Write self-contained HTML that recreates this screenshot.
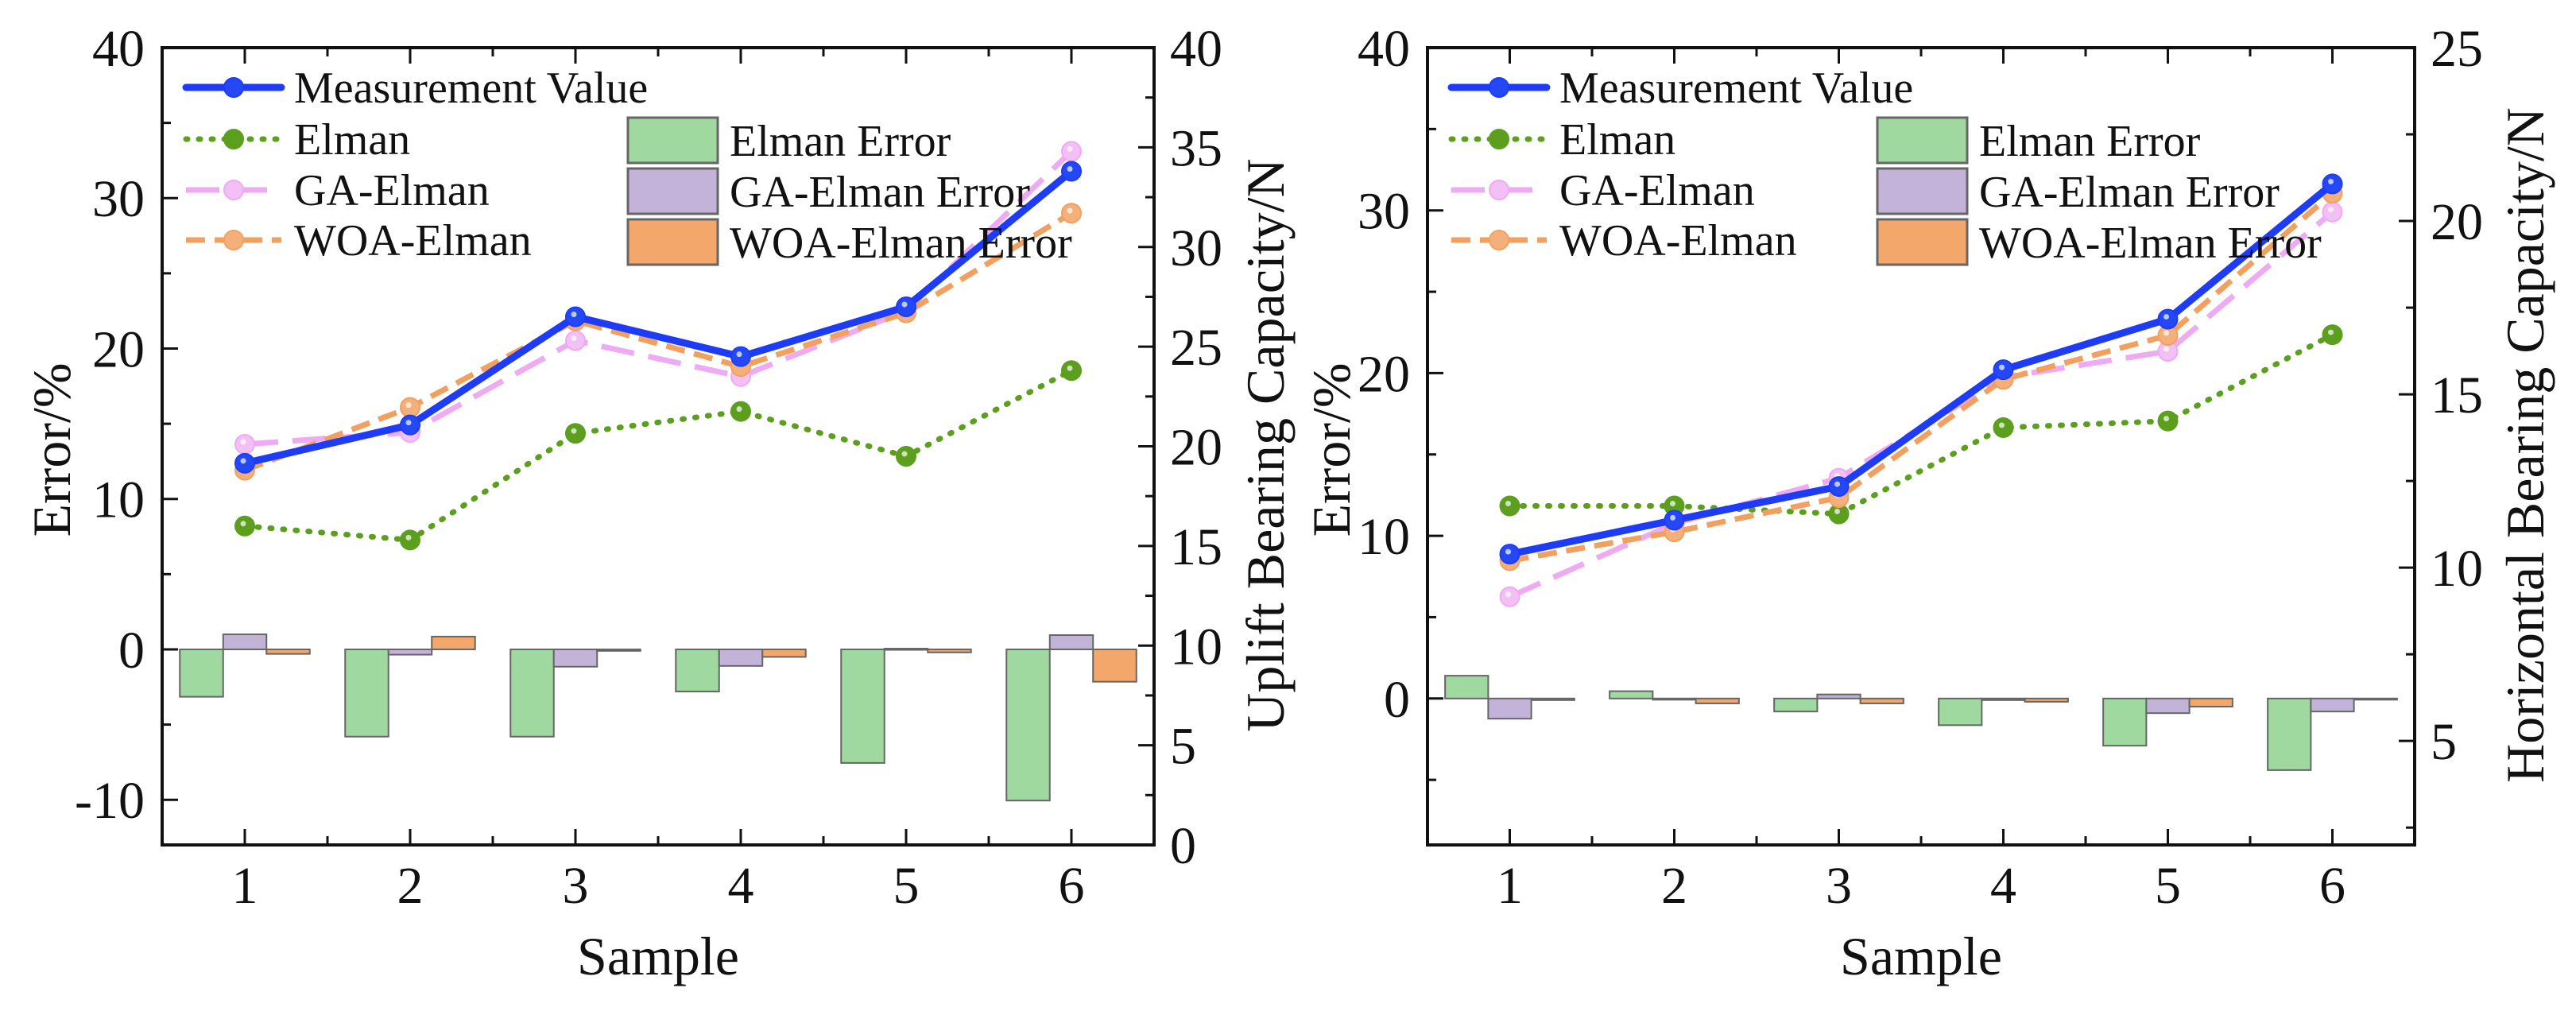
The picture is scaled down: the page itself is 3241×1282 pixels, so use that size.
<!DOCTYPE html>
<html><head><meta charset="utf-8"><style>
html,body{margin:0;padding:0;background:#fff;}
svg{display:block;}
text{font-family:"Liberation Serif",serif;fill:#111;}
</style></head><body>
<svg id="fig" width="3241" height="1282" viewBox="0 0 3241 1282" xmlns="http://www.w3.org/2000/svg">
<g id="left"></g>
<g id="right"></g>
</svg>
<script>
// ---- data ----
const samples = [1,2,3,4,5,6];
// Left chart (uplift, right axis N)
const upMeasured = [19.15,21.07,26.5,24.5,27.0,33.8];
const upElman = [16.0,15.3,20.65,21.75,19.5,23.8];
const upGA = [20.1,20.7,25.3,23.5,26.8,34.8];
const upWOA = [18.8,21.95,26.3,24.0,26.7,31.7];
const upElmanErr = [-3.15,-5.8,-5.8,-2.8,-7.55,-10.05];
const upGAErr = [1.0,-0.35,-1.15,-1.1,0.05,0.95];
const upWOAErr = [-0.3,0.85,-0.1,-0.5,-0.2,-2.15];
const upLeftTicks = [-10,0,10,20,30,40];
const upRightTicks = [0,5,10,15,20,25,30,35,40];
// Right chart (horizontal, right axis N)
const hzMeasured = [10.39,11.37,12.34,15.71,17.17,21.07];
const hzElman = [11.78,11.78,11.55,14.04,14.23,16.72];
const hzGA = [9.16,11.27,12.58,15.49,16.24,20.26];
const hzWOA = [10.2,11.03,12.02,15.43,16.7,20.8];
const hzElmanErr = [1.4,0.45,-0.8,-1.64,-2.9,-4.4];
const hzGAErr = [-1.24,-0.05,0.25,-0.1,-0.9,-0.8];
const hzWOAErr = [-0.1,-0.3,-0.3,-0.2,-0.5,0];
const hzLeftTicks = [0,10,20,30,40];
const hzRightTicks = [5,10,15,20,25];

const NS='http://www.w3.org/2000/svg';
function mk(parent,tag,attrs,txt){const e=document.createElementNS(NS,tag);for(const k in attrs)e.setAttribute(k,attrs[k]);if(txt!==undefined)e.textContent=txt;parent.appendChild(e);return e;}

function chart(g,cfg){
  const L=cfg.x0,R=cfg.x1,T=60,B=1063;
  const X=v=>L+(v-0.5)/6*(R-L);
  const YL=v=>B-(v-cfg.lmin)/(cfg.lmax-cfg.lmin)*(B-T);
  const YR=v=>B-(v-cfg.rmin)/(cfg.rmax-cfg.rmin)*(B-T);
  const barCols=['#9fd99f','#c3b3d9','#f4a76b'];
  const barNames=['elman-error','ga-elman-error','woa-elman-error'];
  const errs=[cfg.e1,cfg.e2,cfg.e3];
  const bw=0.262;
  errs.forEach((arr,s)=>{
    arr.forEach((v,i)=>{
      const xl=X(samples[i]-1.5*bw+s*bw), xr=X(samples[i]-1.5*bw+(s+1)*bw);
      const y0=YL(0),y1=YL(v);
      const r=mk(g,'rect',{x:xl,y:Math.min(y0,y1),width:xr-xl,height:Math.max(1.5,Math.abs(y1-y0)),fill:barCols[s],stroke:'#666','stroke-width':2});
      
      
    });
  });
  const series=[
    {d:cfg.el,c:'#5c9e1e',w:7,dash:'2 14',cap:'round',n:'elman-line',mf:'#5c9e1e'},
    {d:cfg.ga,c:'#eeaaf2',w:7,dash:'42 18',cap:'butt',n:'ga-elman-line',mf:'#f2c0f4'},
    {d:cfg.woa,c:'#f2a060',w:7,dash:'24 12',cap:'butt',n:'woa-elman-line',mf:'#f4b07a'},
    {d:cfg.meas,c:'#1e3cf5',w:9,dash:'',cap:'round',n:'measurement-line',mf:'#2448f5'}
  ];
  series.forEach(s=>{
    const pts=s.d.map((v,i)=>X(samples[i])+','+YR(v)).join(' ');
    const pl=mk(g,'polyline',{points:pts,fill:'none',stroke:s.c,'stroke-width':s.w,'stroke-dasharray':s.dash,'stroke-linecap':s.cap,'stroke-linejoin':'round'});
    
    
    s.d.forEach((v,i)=>{
      const c=mk(g,'circle',{cx:X(samples[i]),cy:YR(v),r:12,fill:s.mf,stroke:s.c,'stroke-width':2});
      
      
      mk(g,'circle',{cx:X(samples[i])-2,cy:YR(v)-3,r:3.5,fill:'#fff','fill-opacity':0.7});
    });
  });
  const fr=mk(g,'rect',{x:L,y:T,width:R-L,height:B-T,fill:'none',stroke:'#111','stroke-width':4});
  
  
  for(let v=1;v<=6;v+=0.5){
    const maj=Number.isInteger(v),len=maj?20:11;
    mk(g,'line',{x1:X(v),x2:X(v),y1:B,y2:B-len,stroke:'#111','stroke-width':3});
    mk(g,'line',{x1:X(v),x2:X(v),y1:T,y2:T+len,stroke:'#111','stroke-width':3});
  }
  samples.forEach(v=>{const t=mk(g,'text',{x:X(v),y:1136,'font-size':66,'text-anchor':'middle'},String(v));
    });
  for(let v=Math.ceil(cfg.lmin/5)*5;v<=cfg.lmax;v+=5){
    const maj=v%10===0;mk(g,'line',{x1:L,x2:L+(maj?20:11),y1:YL(v),y2:YL(v),stroke:'#111','stroke-width':3});
  }
  cfg.lt.forEach(v=>{const t=mk(g,'text',{x:L-22,y:YL(v)+23,'font-size':66,'text-anchor':'end'},String(v));
    });
  for(let v=Math.ceil(cfg.rmin/cfg.rminor)*cfg.rminor;v<=cfg.rmax+1e-9;v+=cfg.rminor){
    const maj=Math.abs(v/cfg.rmajor-Math.round(v/cfg.rmajor))<1e-6;
    mk(g,'line',{x1:R,x2:R-(maj?20:11),y1:YR(v),y2:YR(v),stroke:'#111','stroke-width':3});
  }
  cfg.rt.forEach(v=>{const t=mk(g,'text',{x:R+20,y:YR(v)+23,'font-size':66,'text-anchor':'start'},String(v));
    });
  let t=mk(g,'text',{x:(L+R)/2,y:1226,'font-size':68,'text-anchor':'middle'},'Sample');
  
  t=mk(g,'text',{x:0,y:0,'font-size':68,'text-anchor':'middle',transform:`translate(${cfg.ltx},566) rotate(-90)`},'Error/%');
  
  t=mk(g,'text',{x:0,y:0,'font-size':68,'text-anchor':'middle',transform:`translate(${cfg.rtx},${cfg.rty}) rotate(-90)`},cfg.rtitle);
  
  const lg=mk(g,'g',{});
  
  const lx=L+30, rows=[110,175,239,302];
  const ls=[series[3],series[0],series[1],series[2]];
  const ln=['Measurement Value','Elman','GA-Elman','WOA-Elman'];
  ls.forEach((s,i)=>{
    const y=rows[i];
    mk(lg,'line',{x1:lx,x2:lx+120,y1:y,y2:y,stroke:s.c,'stroke-width':s.w,'stroke-dasharray':s.dash,'stroke-linecap':s.cap});
    mk(lg,'circle',{cx:lx+60,cy:y,r:12,fill:s.mf,stroke:s.c,'stroke-width':2});
    const tt=mk(lg,'text',{x:lx+136,y:y+19,'font-size':56},ln[i]);
    
  });
  const bx=L+cfg.bxo, bn=['Elman Error','GA-Elman Error','WOA-Elman Error'];
  [148,212,276].forEach((y,i)=>{
    mk(lg,'rect',{x:bx,y:y,width:113,height:57,fill:barCols[i],stroke:'#666','stroke-width':3});
    const tt=mk(lg,'text',{x:bx+128,y:y+48,'font-size':56},bn[i]);
    
  });
}
chart(document.getElementById('left'),{x0:204,x1:1452,lmin:-13,lmax:40,rmin:0,rmax:40,rminor:2.5,rmajor:5,
  meas:upMeasured,el:upElman,ga:upGA,woa:upWOA,e1:upElmanErr,e2:upGAErr,e3:upWOAErr,lt:upLeftTicks,rt:upRightTicks,
  ltx:88,rtx:1615,rty:560,rtitle:'Uplift Bearing Capacity/N',bxo:586});
chart(document.getElementById('right'),{x0:1796,x1:3038,lmin:-9,lmax:40,rmin:2,rmax:25,rminor:2.5,rmajor:5,
  meas:hzMeasured,el:hzElman,ga:hzGA,woa:hzWOA,e1:hzElmanErr,e2:hzGAErr,e3:hzWOAErr,lt:hzLeftTicks,rt:hzRightTicks,
  ltx:1698,rtx:3200,rty:560,rtitle:'Horizontal Bearing Capacity/N',bxo:566});
</script>
</body></html>
